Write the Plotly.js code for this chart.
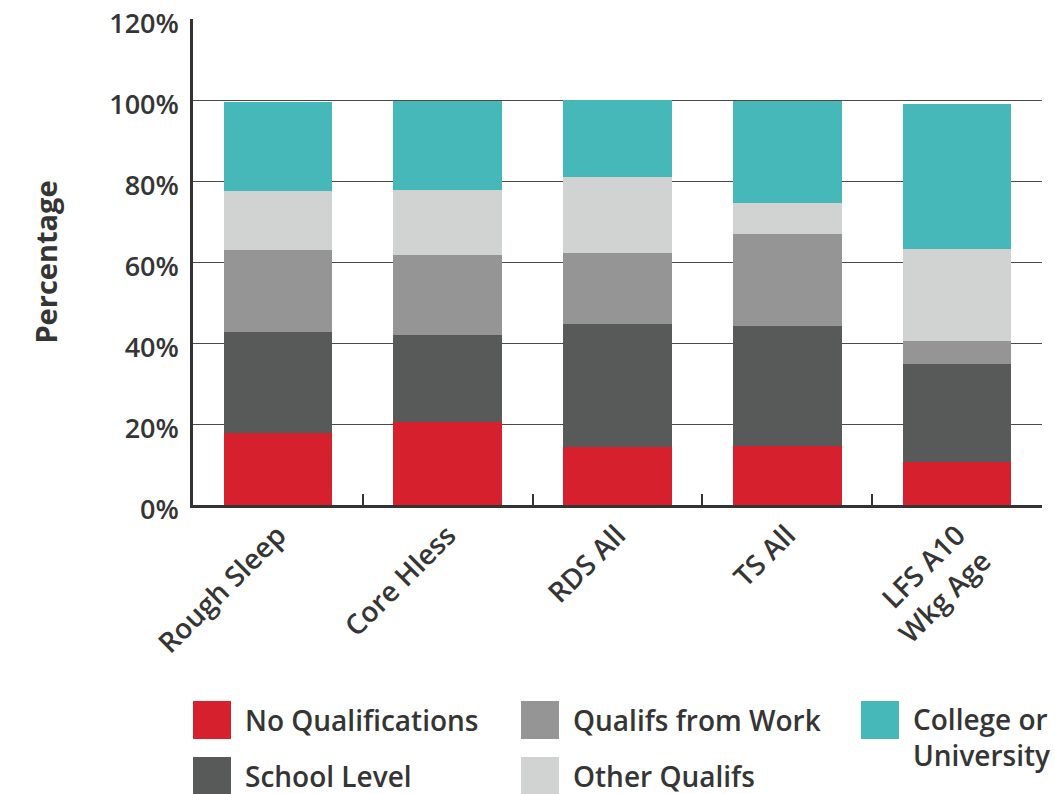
<!DOCTYPE html>
<html>
<head>
<meta charset="utf-8">
<script src="https://cdn.plot.ly/plotly-3.0.1.min.js"></script>
<style>
html,body{margin:0;padding:0;background:#fff;}
#chart{width:1055px;height:794px;}
</style>
</head>
<body>
<div id="chart"></div>
<script>
// ---- Data ----
const categories = ['Rough Sleep', 'Core Hless', 'RDS All', 'TS All', 'LFS A10<br>Wkg Age'];
const seriesNames = ['No Qualifications', 'School Level', 'Qualifs from Work', 'Other Qualifs', 'College or<br>University'];
const noQualifications = [17.7, 20.5, 14.3, 14.6, 10.7];
const schoolLevel      = [25.0, 21.5, 30.4, 29.6, 24.1];
const qualifsFromWork  = [20.2, 19.7, 17.5, 22.7, 5.7];
const otherQualifs     = [14.6, 16.1, 18.8, 7.7, 22.6];
const collegeOrUni     = [21.9, 21.9, 19.0, 25.2, 35.8];
const seriesColors = ['#D7202E', '#585A59', '#949594', '#D1D3D2', '#46B8B9'];
const yTickVals = [0, 20, 40, 60, 80, 100, 120];

const seriesValues = [noQualifications, schoolLevel, qualifsFromWork, otherQualifs, collegeOrUni];

const FONT = '"Open Sans", Lato, sans-serif';
const TXT = '#353535';
const WT = 600;

const traces = seriesValues.map((vals, i) => ({
  type: 'bar',
  name: seriesNames[i].replace('<br>', ' '),
  x: categories,
  y: vals,
  marker: {color: seriesColors[i], line: {width: 0}},
  showlegend: false,
  hovertemplate: '%{x}: %{y:.1f}%<extra>' + seriesNames[i].replace('<br>', ' ') + '</extra>'
}));

// ---- Custom legend (swatches + text), laid out column-wise ----
const L = 193, R = 13, T = 19, B = 289;
const W = 1055 - L - R, H = 794 - T - B;
const px2x = p => (p - L) / W;
const py2y = p => (794 - B - p) / H;

const legendCols = [193, 521, 861];
const legendRows = [720, 776];
const legendOrder = [[0, 1], [2, 3], [4]];
const shapes = [];
const annotations = [];
legendOrder.forEach((col, ci) => {
  col.forEach((si, ri) => {
    const cy = legendRows[ri];
    shapes.push({
      type: 'rect', xref: 'paper', yref: 'paper',
      x0: px2x(legendCols[ci]), x1: px2x(legendCols[ci] + 38),
      y0: py2y(cy - 19), y1: py2y(cy + 19),
      fillcolor: seriesColors[si], line: {width: 0}, layer: 'above'
    });
    const multi = seriesNames[si].indexOf('<br>') >= 0;
    annotations.push({
      xref: 'paper', yref: 'paper',
      x: px2x(legendCols[ci] + 50), y: multi ? py2y(cy - 22) : py2y(cy),
      xanchor: 'left', yanchor: multi ? 'top' : 'middle',
      align: 'left', showarrow: false,
      text: seriesNames[si],
      font: {family: FONT, size: 28, color: TXT, weight: WT}
    });
  });
});

const layout = {
  width: 1055, height: 794,
  margin: {l: L, r: R, t: T, b: B},
  paper_bgcolor: '#fff', plot_bgcolor: '#fff',
  barmode: 'stack',
  bargap: 0.36,
  font: {family: FONT, color: TXT, size: 28, weight: WT},
  xaxis: {
    type: 'category',
    tickangle: -45,
    tickson: 'boundaries',
    ticks: 'inside', ticklen: 11, tickwidth: 2, tickcolor: '#333',
    showline: true, linecolor: '#333', linewidth: 2.5,
    showgrid: false, zeroline: false,
    tickfont: {family: FONT, size: 28, color: TXT, weight: WT}
  },
  yaxis: {
    range: [0, 120],
    tickvals: yTickVals,
    ticktext: yTickVals.map(v => v + '%'),
    showline: true, linecolor: '#333', linewidth: 2.5,
    showgrid: true, gridcolor: '#4a4a4a', gridwidth: 1.3,
    zeroline: false, ticks: '',
    ticklabelstandoff: 6,
    ticklabelshift: 5,
    ticklabeloverflow: 'allow',
    tickfont: {family: FONT, size: 27, color: TXT, weight: WT},
    title: {text: 'Percentage', standoff: 44, font: {family: FONT, size: 29, color: TXT, weight: 700}}
  },
  shapes: shapes,
  annotations: annotations
};

Plotly.newPlot('chart', traces, layout, {displayModeBar: false, responsive: false});
</script>
</body>
</html>
